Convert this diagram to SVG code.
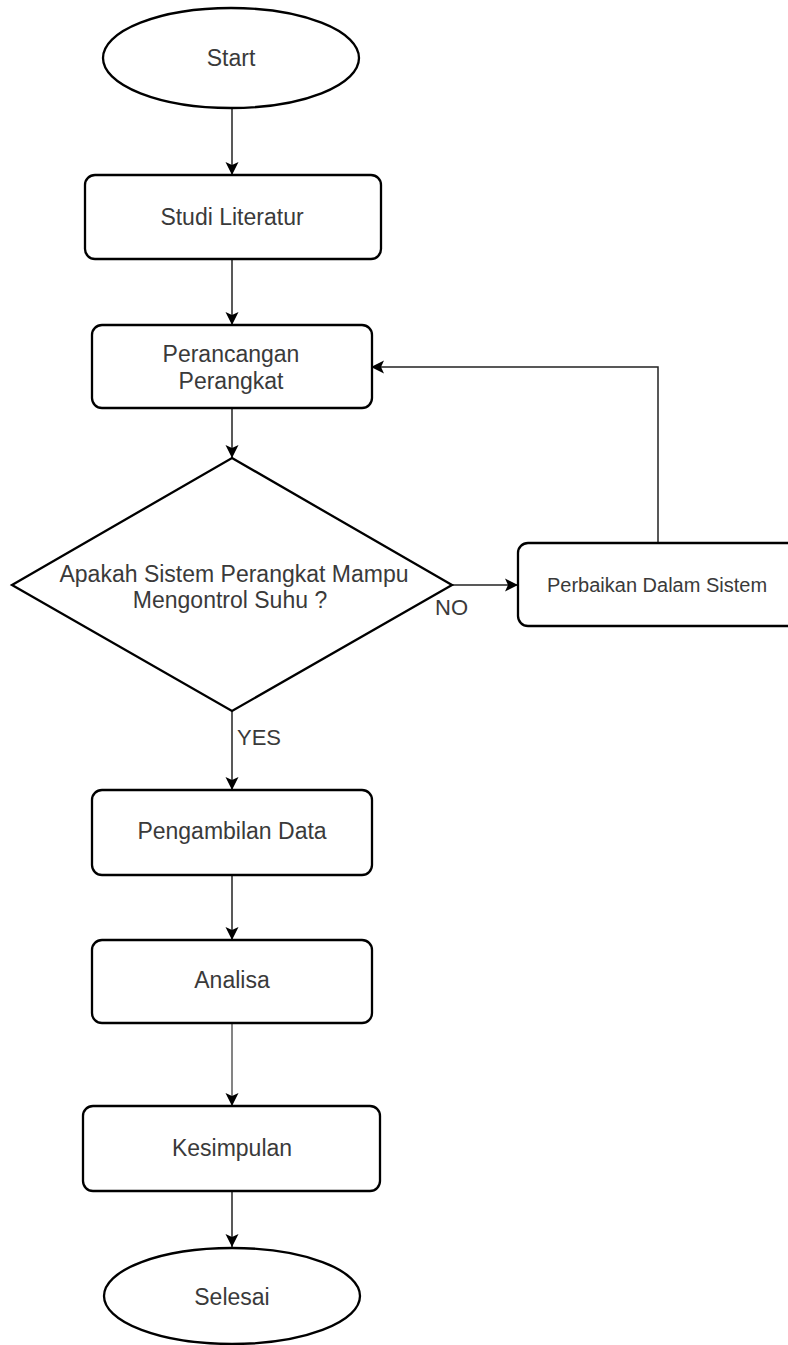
<svg xmlns="http://www.w3.org/2000/svg" width="788" height="1345" viewBox="0 0 788 1345">
<style>
.shape{fill:#ffffff;stroke:#000000;stroke-width:2.3}
.t{font-family:"Liberation Sans",Arial,sans-serif;font-size:23px;fill:#3a3a3a;text-anchor:middle}
.lbl{font-family:"Liberation Sans",Arial,sans-serif;font-size:22px;fill:#3a3a3a}
.c{fill:none;stroke:#222222;stroke-width:1.5;marker-end:url(#arr)}
</style>
<defs>
<marker id="arr" markerUnits="userSpaceOnUse" markerWidth="14" markerHeight="14" viewBox="0 0 14 14" refX="13" refY="7" orient="auto">
<path d="M0,0.5 L13,7 L0,13.5 L3,7 Z" fill="#000000"/>
</marker>
</defs>
<rect width="788" height="1345" fill="#ffffff"/>
<g id="connectors">
<line class="c" x1="232" y1="108" x2="232" y2="175"/>
<line class="c" x1="232" y1="259" x2="232" y2="325"/>
<line class="c" x1="232" y1="408" x2="232" y2="458"/>
<line class="c" x1="232" y1="711" x2="232" y2="790"/>
<line class="c" x1="232" y1="875" x2="232" y2="940"/>
<line class="c" x1="232" y1="1023" x2="232" y2="1106" style="stroke:#777777;stroke-width:1.8"/>
<line class="c" x1="232" y1="1191" x2="232" y2="1247"/>
<line class="c" x1="452" y1="585" x2="518" y2="585"/>
<polyline class="c" points="658,543 658,367 371,367"/>
<text class="lbl" x="237" y="745">YES</text>
<text class="lbl" x="435" y="615">NO</text>
</g>
<g id="start">
<ellipse class="shape" cx="231" cy="58" rx="128" ry="50"/>
<text class="t" x="231" y="66">Start</text>
</g>
<g id="studi-literatur">
<rect class="shape" x="85" y="175" width="296" height="84" rx="10"/>
<text class="t" x="232" y="225">Studi Literatur</text>
</g>
<g id="perancangan">
<rect class="shape" x="92" y="325" width="280" height="83" rx="10"/>
<text class="t" x="231" y="362">Perancangan</text>
<text class="t" x="231" y="389">Perangkat</text>
</g>
<g id="decision">
<polygon class="shape" points="232,458 452,585 232,711 12,585"/>
<text class="t" x="234" y="582">Apakah Sistem Perangkat Mampu</text>
<text class="t" x="230" y="608">Mengontrol Suhu ?</text>
</g>
<g id="perbaikan">
<rect class="shape" x="518" y="543" width="290" height="83" rx="10"/>
<text class="t" x="657" y="592" style="font-size:20px">Perbaikan Dalam Sistem</text>
</g>
<g id="pengambilan">
<rect class="shape" x="92" y="790" width="280" height="85" rx="10"/>
<text class="t" x="232" y="839">Pengambilan Data</text>
</g>
<g id="analisa">
<rect class="shape" x="92" y="940" width="280" height="83" rx="10"/>
<text class="t" x="232" y="988">Analisa</text>
</g>
<g id="kesimpulan">
<rect class="shape" x="83" y="1106" width="297" height="85" rx="10"/>
<text class="t" x="232" y="1156">Kesimpulan</text>
</g>
<g id="selesai">
<ellipse class="shape" cx="232" cy="1296" rx="128" ry="48"/>
<text class="t" x="232" y="1305">Selesai</text>
</g>
</svg>
